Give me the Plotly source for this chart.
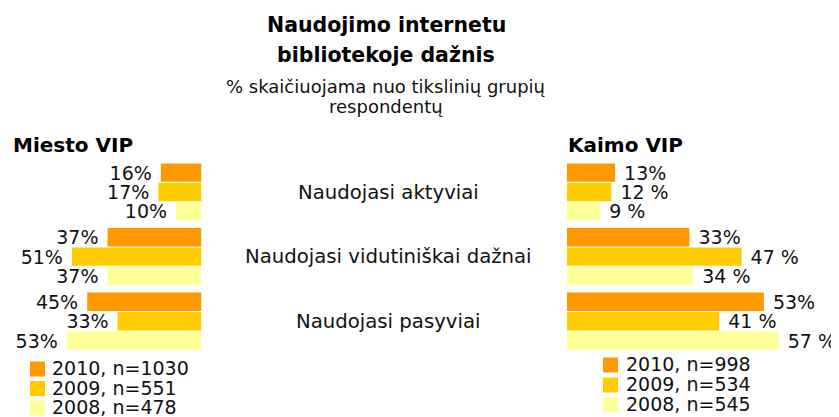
import plotly.graph_objects as go

# ---------------- data ----------------
categories = ["Naudojasi aktyviai", "Naudojasi vidutiniškai dažnai", "Naudojasi pasyviai"]
years = ["2010", "2009", "2008"]
colors = ["#FF9900", "#FFCC00", "#FFFF99"]

miesto_2010 = [16, 37, 45]
miesto_2009 = [17, 51, 33]
miesto_2008 = [10, 37, 53]
kaimo_2010 = [13, 33, 53]
kaimo_2009 = [12, 47, 41]
kaimo_2008 = [9, 34, 57]

miesto_text_2010 = ["16%", "37%", "45%"]
miesto_text_2009 = ["17%", "51%", "33%"]
miesto_text_2008 = ["10%", "37%", "53%"]
kaimo_text_2010 = ["13%", "33%", "53%"]
kaimo_text_2009 = ["12 %", "47 %", "41 %"]
kaimo_text_2008 = ["9 %", "34 %", "57 %"]

miesto_legend = ["2010, n=1030", "2009, n=551", "2008, n=478"]
kaimo_legend = ["2010, n=998", "2009, n=534", "2008, n=545"]

title_lines = ["Naudojimo internetu", "bibliotekoje dažnis"]
subtitle_lines = ["% skaičiuojama nuo tikslinių grupių", "respondentų"]
panel_titles = ["Miesto VIP", "Kaimo VIP"]

# ---------------- layout helpers ----------------
# page is 839x417; the html body adds an 8px margin, so the figure is
# drawn 8px right/down and sized to fit the rest of the window
OFF = 8
PW, PH = 839, 417
W, H = PW - OFF, PH - OFF
FONT = "DejaVu Sans"
NB = "\u00a0"


def px(x):
    return (x - OFF) / W


def py(y):
    return 1 - (y - OFF) / H


miesto_vals = [miesto_2010, miesto_2009, miesto_2008]
kaimo_vals = [kaimo_2010, kaimo_2009, kaimo_2008]
miesto_texts = [miesto_text_2010, miesto_text_2009, miesto_text_2008]
kaimo_texts = [kaimo_text_2010, kaimo_text_2009, kaimo_text_2008]

fig = go.Figure()

for i in range(3):
    fig.add_trace(go.Bar(
        y=categories, x=miesto_vals[i], orientation="h",
        name=years[i], marker=dict(color=colors[i], line=dict(width=0)),
        text=[t + NB for t in miesto_texts[i]], textposition="outside",
        textfont=dict(family=FONT, size=19, color="#111111"),
        cliponaxis=False, constraintext="none", textangle=0,
        xaxis="x", yaxis="y", showlegend=False, hoverinfo="skip",
    ))
for i in range(3):
    fig.add_trace(go.Bar(
        y=categories, x=kaimo_vals[i], orientation="h",
        name=years[i], marker=dict(color=colors[i], line=dict(width=0)),
        text=[NB + t for t in kaimo_texts[i]], textposition="outside",
        textfont=dict(family=FONT, size=19, color="#111111"),
        cliponaxis=False, constraintext="none", textangle=0,
        xaxis="x2", yaxis="y", showlegend=False, hoverinfo="skip",
    ))

hidden = dict(showgrid=False, zeroline=False, showline=False,
              showticklabels=False, ticks="")

left_scale, right_scale = 2.54, 3.72   # pixels per percent
left_end, right_start = 201.5, 566.7   # page pixels of the zero lines
fig.update_layout(
    width=W, height=H,
    margin=dict(l=0, r=0, t=0, b=0),
    paper_bgcolor="white", plot_bgcolor="white",
    barmode="group", bargap=0.10, bargroupgap=0.05,
    font=dict(family=FONT, size=19, color="#111111"),
    xaxis=dict(domain=[0, px(left_end)], range=[(left_end - OFF) / left_scale, 0],
               anchor="y", fixedrange=True, **hidden),
    xaxis2=dict(domain=[px(right_start), 1], range=[0, (PW - right_start) / right_scale],
                anchor="y", fixedrange=True, **hidden),
    yaxis=dict(domain=[py(353.5), py(159.7)], autorange="reversed",
               anchor="x", fixedrange=True, **hidden),
    showlegend=False,
)

annotations = []
# titles
for txt, yc in zip(title_lines, [25, 55]):
    annotations.append(dict(text="<b>" + txt + "</b>", x=px(386), y=py(yc),
                            xref="paper", yref="paper", xanchor="center", yanchor="middle",
                            showarrow=False, font=dict(family=FONT, size=20.5, color="#000000")))
for txt, yc in zip(subtitle_lines, [86, 107]):
    annotations.append(dict(text=txt, x=px(386), y=py(yc),
                            xref="paper", yref="paper", xanchor="center", yanchor="middle",
                            showarrow=False, font=dict(family=FONT, size=18, color="#111111")))
# panel titles
for txt, xl in zip(panel_titles, [11, 566]):
    annotations.append(dict(text="<b>" + txt + "</b>", x=px(xl), y=py(145),
                            xref="paper", yref="paper", xanchor="left", yanchor="middle",
                            showarrow=False, font=dict(family=FONT, size=20, color="#000000")))
# category labels in the middle
for c in categories:
    annotations.append(dict(text=c, x=px(388), y=c, xref="paper", yref="y",
                            xanchor="center", yanchor="middle", showarrow=False,
                            font=dict(family=FONT, size=19.7, color="#111111")))

# manual legends
shapes = []
legend_specs = [
    (miesto_legend, 30, 50, [369, 388.5, 408]),
    (kaimo_legend, 603, 624, [365, 385, 405]),
]
for labels, sq_x, tx_x, rows in legend_specs:
    for lab, col, yc in zip(labels, colors, rows):
        shapes.append(dict(type="rect", xref="paper", yref="paper",
                           x0=px(sq_x), x1=px(sq_x + 15), y0=py(yc - 7.5), y1=py(yc + 7.5),
                           fillcolor=col, line=dict(width=0)))
        annotations.append(dict(text=lab, x=px(tx_x), y=py(yc - 1), xref="paper", yref="paper",
                                xanchor="left", yanchor="middle", showarrow=False,
                                font=dict(family=FONT, size=19, color="#111111")))

fig.update_layout(annotations=annotations, shapes=shapes)

fig.write_html("out.html")
